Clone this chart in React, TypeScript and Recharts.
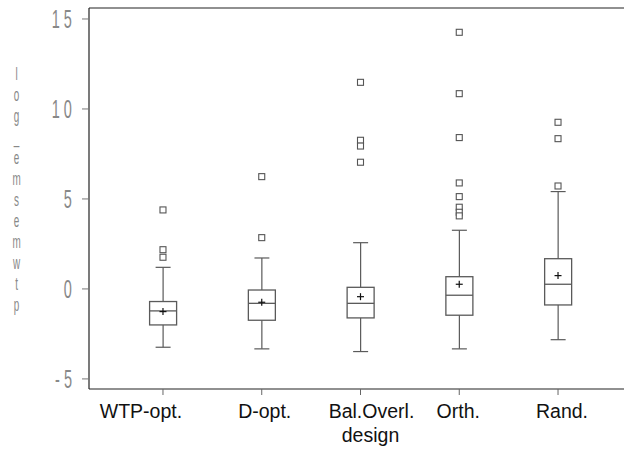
import React from 'react';
import { ComposedChart, Bar, Scatter, XAxis, YAxis, ReferenceLine, Label } from 'recharts';

const categories = ['WTP-opt.', 'D-opt.', 'Bal.Overl.', 'Orth.', 'Rand.'];
const whiskerLow = [-3.24, -3.33, -3.48, -3.33, -2.82];
const q1Values = [-2.0, -1.74, -1.61, -1.46, -0.89];
const medianValues = [-1.22, -0.8, -0.8, -0.35, 0.26];
const q3Values = [-0.7, -0.06, 0.09, 0.68, 1.68];
const whiskerHigh = [1.2, 1.72, 2.57, 3.26, 5.41];
const meanValues = [-1.26, -0.74, -0.43, 0.26, 0.74];
const outlierValues = [
  [4.39, 2.18, 1.76],
  [6.24, 2.85],
  [11.48, 8.26, 7.94, 7.04],
  [14.26, 10.85, 8.41, 5.89, 5.13, 4.54, 4.26, 4.06],
  [9.26, 8.35, 5.72],
];
const yTicks = [-5, 0, 5, 10, 15];
const yDomain = [-5.56, 15.61];
const yAxisTitle = 'log_emsemwtp';
const xAxisTitle = 'design';

const data = categories.map((name, i) => ({
  name,
  low: whiskerLow[i],
  q1: q1Values[i],
  median: medianValues[i],
  q3: q3Values[i],
  high: whiskerHigh[i],
  mean: meanValues[i],
}));
const outlierData = categories.flatMap((name, i) => outlierValues[i].map((v) => ({ name, v })));

// style-only nudges for the category label text
const labelNudge: Record<string, number> = {
  'WTP-opt.': -22,
  'D-opt.': 3,
  'Bal.Overl.': 11,
  'Orth.': -1,
  'Rand.': 4,
};

const BOX_STROKE = '#5a5a5a';
const NARROW_FONT = '"Liberation Sans", Arial, sans-serif';

const WhiskerShape = (props: any) => {
  const { x, y, width, height } = props;
  if (x == null || y == null) return null;
  const cx = x + width / 2;
  const top = Math.min(y, y + height);
  const bottom = Math.max(y, y + height);
  return (
    <g stroke={BOX_STROKE} strokeWidth={1.2} fill="none">
      <line x1={cx} x2={cx} y1={top} y2={bottom} />
      <line x1={cx - 7.5} x2={cx + 7.5} y1={top} y2={top} />
      <line x1={cx - 7.5} x2={cx + 7.5} y1={bottom} y2={bottom} />
    </g>
  );
};

const BoxShape = (props: any) => {
  const { x, y, width, height, payload } = props;
  if (x == null || y == null) return null;
  const top = Math.min(y, y + height);
  const bottom = Math.max(y, y + height);
  const medY = top + ((payload.q3 - payload.median) / (payload.q3 - payload.q1)) * (bottom - top);
  return (
    <g stroke={BOX_STROKE} strokeWidth={1.3}>
      <rect x={x} y={top} width={width} height={bottom - top} fill="#fff" />
      <line x1={x} x2={x + width} y1={medY} y2={medY} />
    </g>
  );
};

const PlusShape = (props: any) => {
  const { cx, cy } = props;
  if (cx == null || cy == null) return null;
  return (
    <g stroke="#111" strokeWidth={1.2}>
      <line x1={cx - 3.5} x2={cx + 3.5} y1={cy} y2={cy} />
      <line x1={cx} x2={cx} y1={cy - 3.5} y2={cy + 3.5} />
    </g>
  );
};

const SquareShape = (props: any) => {
  const { cx, cy } = props;
  if (cx == null || cy == null) return null;
  return <rect x={cx - 3} y={cy - 3} width={6} height={6} fill="#fff" stroke="#555" strokeWidth={1.1} />;
};

const XTick = (props: any) => {
  const { x, y, payload } = props;
  return (
    <text
      x={x + (labelNudge[payload.value] || 0)}
      y={y}
      dy={21}
      textAnchor="middle"
      fontSize={19.5}
      fill="#111"
      fontFamily={'"Liberation Sans", Arial, sans-serif'}
    >
      {payload.value}
    </text>
  );
};

const YTick = (props: any) => {
  const { x, y, payload } = props;
  return (
    <g transform={`translate(${x},${y})`}>
      <text
        transform="scale(0.58,1)"
        textAnchor="end"
        dy={9.5}
        fontSize={25}
        fill="#888"
        letterSpacing={7}
        fontFamily={NARROW_FONT}
      >
        {payload.value}
      </text>
    </g>
  );
};

const YTitle = (props: any) => {
  const vb = props.viewBox || { x: 0, y: 8, width: 89, height: 381 };
  const letters = yAxisTitle.split('');
  const step = 21;
  const first = vb.y + vb.height / 2 - ((letters.length - 1) / 2) * step - 3;
  return (
    <g>
      {letters.map((ch, i) => (
        <text
          key={i}
          transform={`translate(${vb.x + 16.5},${first + i * step}) scale(0.55,1)`}
          textAnchor="middle"
          fontSize={18}
          fill="#888"
          fontFamily={NARROW_FONT}
        >
          {ch}
        </text>
      ))}
    </g>
  );
};

export default function App() {
  return (
    <div style={{ position: 'absolute', left: 0, top: 0, background: '#fff' }}>
      <ComposedChart
        width={624}
        height={452}
        data={data}
        margin={{ top: 8, right: 0, bottom: 0, left: 0 }}
        barSize={27}
        barGap={-27}
      >
        <XAxis
          dataKey="name"
          type="category"
          allowDuplicatedCategory={false}
          interval={0}
          padding={{ left: 24.6, right: 16.6 }}
          height={63}
          tickSize={6}
          axisLine={{ stroke: '#222', strokeWidth: 1.2 }}
          tickLine={{ stroke: '#666' }}
          tick={<XTick />}
        >
          <Label
            value={xAxisTitle}
            position="insideBottom"
            offset={10}
            dx={14}
            fontSize={19.5}
            fill="#111"
            fontFamily={'"Liberation Sans", Arial, sans-serif'}
          />
        </XAxis>
        <YAxis
          type="number"
          domain={yDomain}
          ticks={yTicks}
          allowDataOverflow
          width={89}
          tickSize={7}
          tickMargin={6}
          axisLine={{ stroke: '#222', strokeWidth: 1.2 }}
          tickLine={{ stroke: '#777' }}
          tick={<YTick />}
          label={{ content: <YTitle /> }}
        />
        <ReferenceLine y={yDomain[1]} stroke="#222" strokeWidth={1.2} />
        <Bar dataKey={(d: any) => [d.low, d.high]} shape={<WhiskerShape />} isAnimationActive={false} />
        <Bar dataKey={(d: any) => [d.q1, d.q3]} shape={<BoxShape />} isAnimationActive={false} />
        <Scatter dataKey="mean" shape={<PlusShape />} isAnimationActive={false} />
        <Scatter data={outlierData} dataKey="v" shape={<SquareShape />} isAnimationActive={false} />
      </ComposedChart>
    </div>
  );
}
